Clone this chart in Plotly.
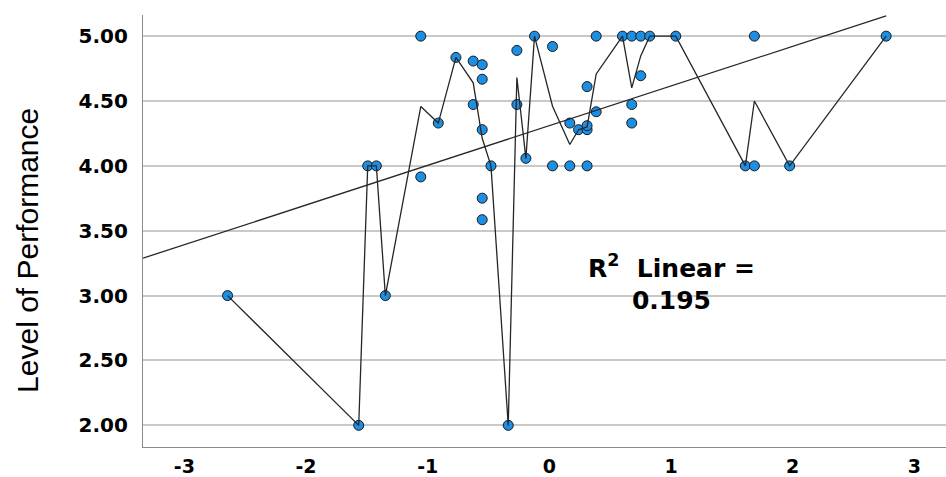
import plotly.graph_objects as go
import pandas as pd

# ---- data ----
x_values = [-2.645, -1.567, -1.493, -1.422, -1.348,
            -1.057, -1.057, -0.913, -0.768, -0.626, -0.626,
            -0.552, -0.552, -0.552, -0.552, -0.552,
            -0.480, -0.338, -0.267, -0.267, -0.193, -0.122,
            0.026, 0.026, 0.168, 0.168, 0.240,
            0.310, 0.310, 0.310, 0.310,
            0.385, 0.385, 0.601, 0.677, 0.677, 0.677,
            0.751, 0.751, 0.825, 1.039, 1.611, 1.685, 1.685, 1.975, 2.768]
y_values = [3.00, 2.00, 4.00, 4.00, 3.00,
            5.00, 3.915, 4.33, 4.836, 4.808, 4.473,
            4.78, 4.668, 4.279, 3.751, 3.585,
            4.00, 2.00, 4.89, 4.473, 4.058, 5.00,
            4.92, 4.00, 4.33, 4.00, 4.279,
            4.611, 4.279, 4.31, 4.00,
            5.00, 4.417, 5.00, 5.00, 4.473, 4.33,
            5.00, 4.695, 5.00, 5.00, 4.00, 5.00, 4.00, 4.00, 5.00]

fit_intercept = 4.310
fit_slope = 0.3058
r2_text = "R<sup>2</sup>  Linear =<br>0.195"

x_range = [-3.34, 3.26]
y_range = [1.833, 5.163]
x_tick_vals = [-3, -2, -1, 0, 1, 2, 3]
x_tick_text = ["-3", "-2", "-1", "0", "1", "2", "3"]
y_tick_vals = [2.0, 2.5, 3.0, 3.5, 4.0, 4.5, 5.0]
y_tick_text = ["2.00", "2.50", "3.00", "3.50", "4.00", "4.50", "5.00"]
y_title = "Level of Performance"

# ---- derived series ----
df = pd.DataFrame({"x": x_values, "y": y_values})
means = df.groupby("x", as_index=False)["y"].mean().sort_values("x")

fit_x = [x_range[0], max(x_values)]
fit_y = [fit_intercept + fit_slope * v for v in fit_x]

fig = go.Figure()

fig.add_trace(go.Scatter(
    x=df["x"], y=df["y"], mode="markers",
    marker=dict(size=10, color="#1c8fe3", line=dict(color="#1a1a1a", width=1)),
    showlegend=False, hoverinfo="skip"))

fig.add_trace(go.Scatter(
    x=means["x"], y=means["y"], mode="lines",
    line=dict(color="#262626", width=1.3),
    showlegend=False, hoverinfo="skip"))

fig.add_trace(go.Scatter(
    x=fit_x, y=fit_y, mode="lines",
    line=dict(color="#262626", width=1.3),
    showlegend=False, hoverinfo="skip"))

fig.update_layout(
    width=946, height=477,
    margin=dict(l=143, r=0, t=15, b=28),
    paper_bgcolor="white", plot_bgcolor="white",
    font=dict(family="DejaVu Sans", color="black"),
    xaxis=dict(range=x_range, tickvals=x_tick_vals, ticktext=x_tick_text,
               showgrid=False, zeroline=False, showline=True,
               linecolor="#8a8a8a", linewidth=1.2, ticks="",
               tickfont=dict(family="DejaVu Sans", size=19, color="black", weight="bold"),
               ticklabelstandoff=2),
    yaxis=dict(range=y_range, tickvals=y_tick_vals, ticktext=y_tick_text,
               showgrid=True, gridcolor="#c9c9c9", gridwidth=1.5,
               zeroline=False, showline=True,
               linecolor="#8a8a8a", linewidth=1.2, ticks="",
               tickfont=dict(family="DejaVu Sans", size=20, color="black", weight="bold"),
               ticklabelstandoff=10),
)

fig.add_annotation(
    text=y_title, textangle=-90, xref="paper", yref="paper",
    x=(28 - 143) / 803, y=(449 - 252) / 434, xanchor="center", yanchor="middle",
    showarrow=False, font=dict(family="Liberation Sans", size=30, color="black"))

fig.add_annotation(
    text=r2_text, xref="x", yref="y", x=(672 - 549.5) / 121.8,
    y=5 - (283 - 36) / 130.3, xanchor="center", yanchor="middle",
    showarrow=False, align="center",
    font=dict(family="DejaVu Sans", size=25, color="black", weight="bold"))

fig.write_html("out.html",
               config={"displayModeBar": False},
               post_script="document.body.style.margin='0';"
                           "document.body.style.overflow='hidden';")
